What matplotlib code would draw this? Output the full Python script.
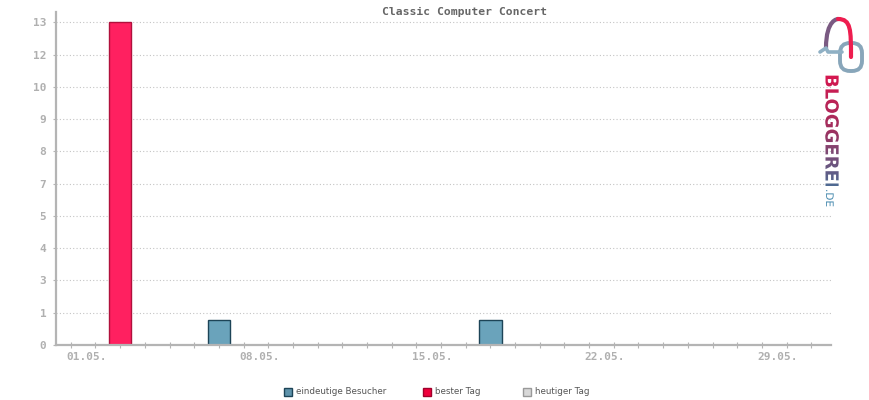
import numpy as np
import matplotlib
matplotlib.use("Agg")
import matplotlib.pyplot as plt
from matplotlib.patches import Rectangle, PathPatch, FancyBboxPatch
from matplotlib.path import Path
from matplotlib.textpath import TextPath
from matplotlib.font_manager import FontProperties
from matplotlib.colors import LinearSegmentedColormap
import matplotlib.transforms as mtransforms

# data
title = "Classic Computer Concert"
days = ["%02d.05." % d for d in range(1, 32)]
visitors = [0, 0, 13, 0, 0, 0, 1, 0, 0, 0,
            0, 0, 0, 0, 0, 0, 0, 1, 0, 0,
            0, 0, 0, 0, 0, 0, 0, 0, 0, 0, 0]
label_days = ["01.05.", "08.05.", "15.05.", "22.05.", "29.05."]
ytick_labels = ["0", "1", "3", "4", "5", "7", "8", "9", "10", "12", "13"]
legend_labels = ["eindeutige Besucher", "bester Tag", "heutiger Tag"]

blue = "#6aa3bb"
blue_edge = "#1d4457"
red = "#ff2060"
red_edge = "#b0103c"
gray = "#b4b4b4"

fig = plt.figure(figsize=(8.7, 4), dpi=100)
ax = fig.add_axes([56 / 870, 1 - 345 / 400, 775 / 870, 333 / 400])

x = np.arange(len(days))
vals = np.array(visitors)
best = int(np.argmax(vals))
mask = vals > 0
colors = [red if i == best else blue for i in x[mask]]
edges = [red_edge if i == best else blue_edge for i in x[mask]]
ax.bar(x[mask], vals[mask], width=0.91, color=colors, edgecolor=edges,
       linewidth=1.0, zorder=2)

ax.set_xlim(-0.6, 30.8)
ax.set_ylim(0, vals.max() * 1.032)

# y axis
yt = np.linspace(0, vals.max(), len(ytick_labels))
ax.set_yticks(yt)
ax.set_yticklabels(ytick_labels)
for v in yt[1:]:
    ax.axhline(v, color="#c4c4c4", linewidth=0.8, linestyle=(0, (1, 2)), zorder=1)

# x axis: daily marks as minor ticks, weekly labels slightly right of their day
ax.set_xticks(x, minor=True)
lab_pos = [days.index(d) + 0.63 for d in label_days]
ax.set_xticks(lab_pos)
ax.set_xticklabels(label_days)

for s in ["top", "right"]:
    ax.spines[s].set_visible(False)
for s in ["left", "bottom"]:
    ax.spines[s].set_color(gray)
    ax.spines[s].set_linewidth(1.6)
    ax.spines[s].set_zorder(3)

ax.tick_params(axis="x", which="minor", direction="inout", length=5, width=0.8,
               color=gray)
ax.tick_params(axis="x", which="major", length=0, pad=5,
               labelsize=8, labelcolor="#b0b0b0")
ax.tick_params(axis="y", direction="out", length=2.5, width=0.8, color=gray,
               pad=4.5, labelsize=8, labelcolor="#b0b0b0")
for lab in ax.get_xticklabels() + ax.get_yticklabels():
    lab.set_family("DejaVu Sans Mono")
    lab.set_weight("bold")

fig.text(465 / 870, 1 - 12 / 400, title, ha="center", va="center",
         family="DejaVu Sans Mono", weight="bold", fontsize=8.2, color="#666666")

# overlay in pixel coordinates for legend and logo
lax = fig.add_axes([0, 0, 1, 1], zorder=5)
lax.set_xlim(0, 870)
lax.set_ylim(400, 0)
lax.axis("off")

# legend
leg_x = [284, 423, 523]
leg_fc = ["#5e93ab", "#f0003c", "#d8d8d8"]
leg_ec = ["#1d4457", "#a0002a", "#999999"]
for lx, lab, fc, ec in zip(leg_x, legend_labels, leg_fc, leg_ec):
    lax.add_patch(Rectangle((lx, 388), 8, 8, facecolor=fc, edgecolor=ec, linewidth=1.0))
    lax.text(lx + 12, 392, lab, ha="left", va="center", fontsize=6.3,
             color="#555555", family="DejaVu Sans")

# logo text with gradient
fp = FontProperties(family="DejaVu Sans", weight="bold")
tp = TextPath((0, 0), "BLOGGEREI", size=18.0, prop=fp)
rot = mtransforms.Affine2D(np.array([[0, 1, 825.5], [1, 0, 74], [0, 0, 1]], float))
path = rot.transform_path(tp)
patch = PathPatch(path, facecolor="none", edgecolor="none", transform=lax.transData)
lax.add_patch(patch)
cmap = LinearSegmentedColormap.from_list("logo", ["#d9164f", "#a0305e", "#4f6a92"])
grad = np.linspace(0, 1, 100).reshape(-1, 1)
im = lax.imshow(grad, cmap=cmap, extent=(820, 845, 186, 72), aspect="auto",
                interpolation="bilinear")
im.set_clip_path(patch)

tp2 = TextPath((0, 0), ".DE", size=10.5, prop=FontProperties(family="DejaVu Sans"))
rot2 = mtransforms.Affine2D(np.array([[0, 1, 826], [1, 0, 189], [0, 0, 1]], float))
lax.add_patch(PathPatch(rot2.transform_path(tp2), facecolor="#4a8cb0",
                        edgecolor="none", transform=lax.transData))

# logo icon
lax.add_patch(FancyBboxPatch((840, 43), 22, 28, boxstyle="round,pad=0,rounding_size=10",
                             facecolor="none", edgecolor="#88a6ba", linewidth=2.8))
arch_l = Path([(826, 48), (826, 19), (838, 19), (838, 19)],
              [Path.MOVETO, Path.CURVE4, Path.CURVE4, Path.CURVE4])
arch_r = Path([(838, 19), (851, 19), (851, 30), (851, 57)],
              [Path.MOVETO, Path.CURVE4, Path.CURVE4, Path.LINETO])
lax.add_patch(PathPatch(arch_l, facecolor="none", edgecolor="#7a5a82", linewidth=3.0,
                        capstyle="round"))
lax.add_patch(PathPatch(arch_r, facecolor="none", edgecolor="#ee1d4f", linewidth=3.0,
                        capstyle="round"))
lax.plot([820, 826, 828, 842], [52, 48, 52, 52], color="#8fb0c4", linewidth=2.6,
         solid_capstyle="round", solid_joinstyle="round")

fig.savefig("out.png", dpi=100)
